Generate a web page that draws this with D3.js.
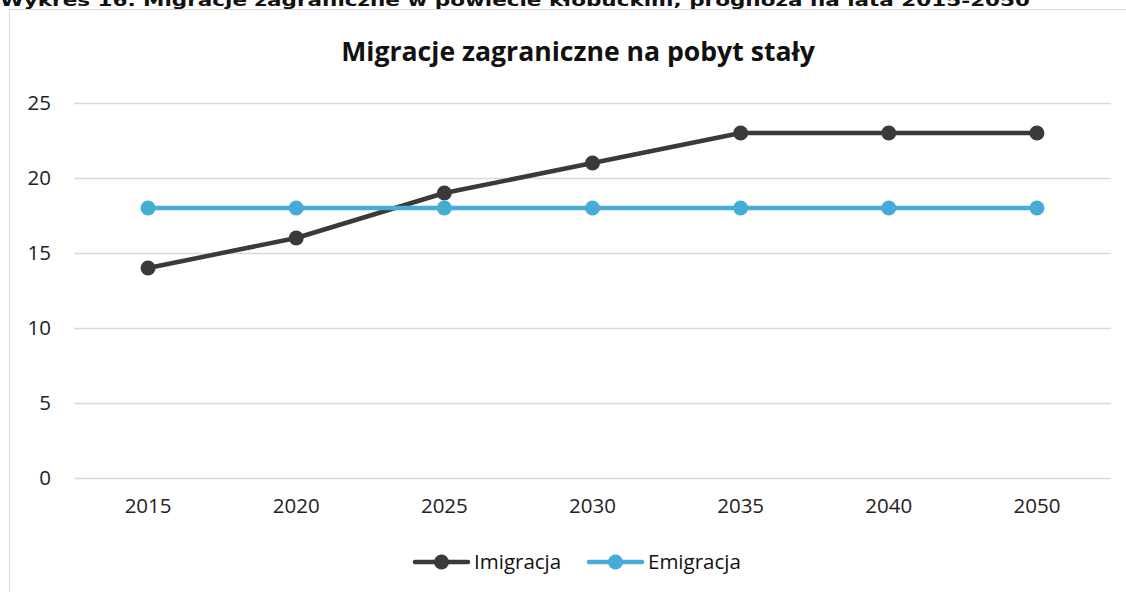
<!DOCTYPE html>
<html>
<head>
<meta charset="utf-8">
<script src="https://cdnjs.cloudflare.com/ajax/libs/d3/7.8.5/d3.min.js"></script>
<style>
  body { margin: 0; background: #fff; }
  svg { display: block; }
</style>
</head>
<body>
<svg width="1126" height="592"></svg>
<script>
(function () {
  var years = ['2015', '2020', '2025', '2030', '2035', '2040', '2050'];
  var imigracja = [14, 16, 19, 21, 23, 23, 23];
  var emigracja = [18, 18, 18, 18, 18, 18, 18];
  var yTicks = [0, 5, 10, 15, 20, 25];

  var series = [
    { name: 'Imigracja', values: imigracja, color: '#3a3a3a' },
    { name: 'Emigracja', values: emigracja, color: '#44acd7' }
  ];

  var svg = d3.select('svg');
  var font = '"Open Sans", Lato, sans-serif';

  // caption cut off at the top of the page
  svg.append('text')
    .attr('x', 0)
    .attr('y', 6)
    .attr('font-family', '"DejaVu Sans", Verdana, sans-serif')
    .attr('font-weight', 'bold')
    .attr('font-size', 16)
    .attr('textLength', 1030)
    .attr('lengthAdjust', 'spacingAndGlyphs')
    .attr('fill', '#111')
    .text('Wykres 16. Migracje zagraniczne w powiecie kłobuckim, prognoza na lata 2015-2050');

  // chart frame
  svg.append('rect')
    .attr('x', 9.5)
    .attr('y', 9.5)
    .attr('width', 1200)
    .attr('height', 700)
    .attr('fill', '#fff')
    .attr('stroke', '#d9d9d9');

  svg.append('text')
    .attr('x', 578)
    .attr('y', 61)
    .attr('text-anchor', 'middle')
    .attr('font-family', font)
    .attr('font-weight', 'bold')
    .attr('font-size', 26.6)
    .attr('fill', '#111')
    .text('Migracje zagraniczne na pobyt stały');

  var x = d3.scaleBand().domain(years).range([74, 1111]);
  var y = d3.scaleLinear().domain([0, 25]).range([478, 103]);

  var grid = svg.append('g');
  grid.selectAll('line')
    .data(yTicks)
    .enter()
    .append('line')
    .attr('x1', 74)
    .attr('x2', 1111)
    .attr('y1', d => y(d) + 0.5)
    .attr('y2', d => y(d) + 0.5)
    .attr('stroke', '#d9d9d9')
    .attr('stroke-width', 1.3);

  var yAxis = svg.append('g')
    .attr('transform', 'translate(59,0)')
    .call(d3.axisLeft(y).tickValues(yTicks).tickSize(0).tickPadding(8));
  yAxis.select('.domain').remove();
  yAxis.selectAll('text')
    .attr('font-family', font)
    .attr('font-size', 20.5)
    .attr('fill', '#222');

  var xAxis = svg.append('g')
    .attr('transform', 'translate(0,478)')
    .call(d3.axisBottom(x).tickSize(0).tickPadding(20));
  xAxis.select('.domain').remove();
  xAxis.selectAll('text')
    .attr('font-family', font)
    .attr('font-size', 20.5)
    .attr('fill', '#222');

  var line = d3.line()
    .x((d, i) => x(years[i]) + x.bandwidth() / 2)
    .y(d => y(d));

  series.forEach(s => {
    svg.append('path')
      .datum(s.values)
      .attr('d', line)
      .attr('fill', 'none')
      .attr('stroke', s.color)
      .attr('stroke-width', 4.5)
      .attr('stroke-linecap', 'round')
      .attr('stroke-linejoin', 'round');

    svg.append('g')
      .selectAll('circle')
      .data(s.values)
      .enter()
      .append('circle')
      .attr('cx', (d, i) => x(years[i]) + x.bandwidth() / 2)
      .attr('cy', d => y(d))
      .attr('r', 7.5)
      .attr('fill', s.color);
  });

  // legend
  var legend = svg.append('g')
    .selectAll('g')
    .data(series)
    .enter()
    .append('g')
    .attr('transform', (d, i) => `translate(${[415 + i * 174, 562]})`);

  legend.append('line')
    .attr('x1', 0)
    .attr('x2', 53)
    .attr('stroke', d => d.color)
    .attr('stroke-width', 4.5)
    .attr('stroke-linecap', 'round');

  legend.append('circle')
    .attr('cx', 26.5)
    .attr('r', 7.5)
    .attr('fill', d => d.color);

  legend.append('text')
    .attr('x', 59)
    .attr('dy', '0.35em')
    .attr('font-family', font)
    .attr('font-size', 20.5)
    .attr('fill', '#111')
    .text(d => d.name);
})();
</script>
</body>
</html>
